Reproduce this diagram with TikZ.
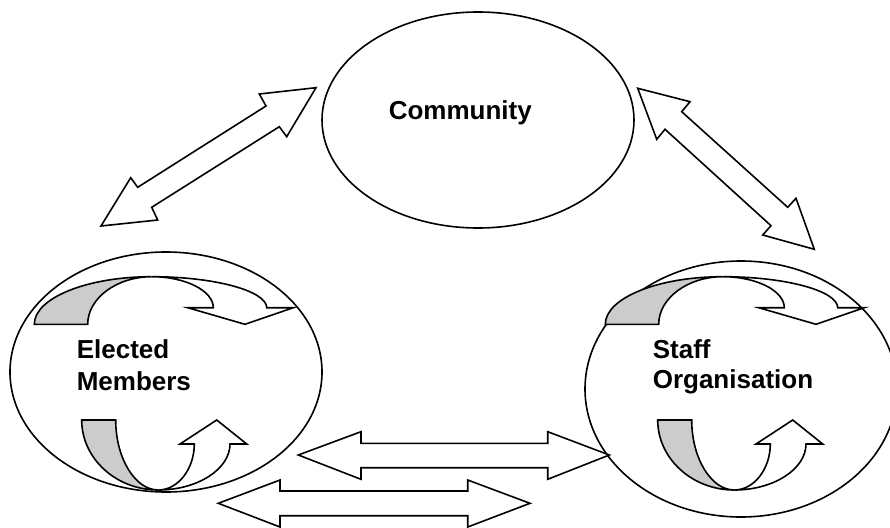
\documentclass[tikz,border=0pt]{standalone}
\usepackage{fontspec}
\setmainfont{Liberation Sans}
\usetikzlibrary{shapes.geometric}
\begin{document}
\begin{tikzpicture}[x=1pt,y=-1pt,line width=1.6pt,line join=miter,
  outline/.style={draw=black,line width=1.6pt},
  oval/.style={outline,ellipse,inner sep=0pt,minimum width=312pt},
  shaded/.style={outline,fill=gray!40},
  blank/.style={outline,fill=white},
  lbl/.style={font=\bfseries\fontsize{26}{30}\selectfont,anchor=base west,inner sep=0pt},
  toparrow/.pic={
    \filldraw[shaded] (34.3,324.3) .. controls (34.3,298) and (87,276.7) .. (151.7,276.7)
      .. controls (117,276.7) and (87.7,298) .. (87.7,324.3) -- cycle;
    \filldraw[blank] (151.7,276.7) .. controls (215,276.7) and (266.7,291) .. (266.7,307.7)
      -- (293.3,307.7) -- (245,324.3) -- (187.7,307.7) -- (213.3,307.7)
      .. controls (213.3,291) and (186,276.7) .. (151.7,276.7) -- cycle;
  },
  botarrow/.pic={
    \filldraw[shaded] (81.7,420) -- (115.7,420) .. controls (115.7,458) and (135,490) .. (158.3,490)
      .. controls (116,490) and (81.7,458.5) .. (81.7,420) -- cycle;
    \filldraw[blank] (158.3,490) .. controls (197.7,490) and (230,469) .. (230,444)
      -- (246.7,444) -- (216.7,420) -- (180,444) -- (194.3,444)
      .. controls (194.3,469) and (178,490) .. (158.3,490) -- cycle;
  }]
\useasboundingbox (0,0) rectangle (890,527);

% ellipses
\node[oval,minimum height=216pt] (community) at (478,120) {};
\node[oval,minimum height=240pt] (elected) at (166,372) {};
\node[oval,minimum height=256pt] (staff) at (741,389) {};

% labels
\node[lbl] (lcom) at (388,119) {Community};
\node[lbl] (lel1) at (76,358) {Elected};
\node[lbl] (lel2) at (76,390) {Members};
\node[lbl] (lst1) at (652,358) {Staff};
\node[lbl] (lst2) at (652,388) {Organisation};

% curved arrows inside the ellipses
\pic at (0,0) {toparrow};
\pic at (0,0) {botarrow};
\pic at (571,0) {toparrow};
\pic at (576,0) {botarrow};

% diagonal double arrow: community <-> elected members
\draw[blank] (316,87.7) -- (259.3,94) -- (266,106) -- (137.7,187.3) -- (130.7,177.7)
  -- (101,226) -- (157.7,220) -- (151.7,207.3) -- (279.3,126.7) -- (286.7,136.7) -- cycle;

% diagonal double arrow: community <-> staff organisation
\draw[blank] (637.7,88.3) -- (690,101.7) -- (681.7,111.7) -- (787.7,207.3) -- (796,198.3)
  -- (814.3,249.3) -- (762.7,235) -- (771,225.7) -- (665,129.3) -- (656.7,139.3) -- cycle;

% horizontal double arrows between elected members and staff organisation
\draw[blank] (298.3,455) -- (361,431.7) -- (361,443.3) -- (547.7,443.3) -- (547.7,431.7)
  -- (609.3,455) -- (547.7,479.3) -- (547.7,467.7) -- (361,467.7) -- (361,479.3) -- cycle;
\draw[blank] (218.3,503.3) -- (280,480) -- (280,491) -- (467.7,491) -- (467.7,480)
  -- (530,503.3) -- (467.7,527) -- (467.7,515.7) -- (280,515.7) -- (280,527) -- cycle;
\end{tikzpicture}
\end{document}
